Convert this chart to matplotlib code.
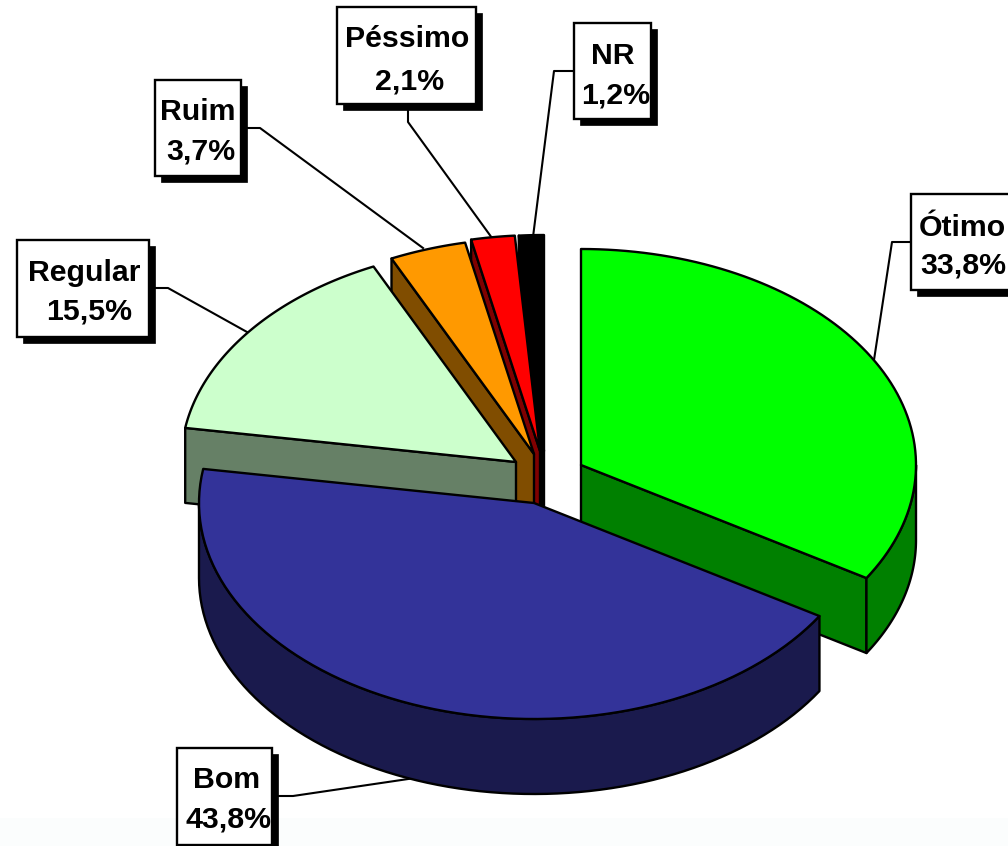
import numpy as np
import matplotlib
matplotlib.use("Agg")
import matplotlib.pyplot as plt
from matplotlib.patches import Polygon, Rectangle

# slices, clockwise from 12 o'clock
names = ["Ótimo", "Bom", "Regular", "Ruim", "Péssimo", "NR"]
values = [33.8, 43.8, 15.5, 3.7, 2.1, 1.2]
value_labels = ["33,8%", "43,8%", "15,5%", "3,7%", "2,1%", "1,2%"]
top_colors = ["#00FF00", "#333399", "#CCFFCC", "#FF9900", "#FF0000", "#000000"]
side_colors = ["#008000", "#1A1A4D", "#668066", "#804D00", "#800000", "#000000"]

# layout in pixels
RX, RY, DEPTH = 335, 216, 75
apex = [(581, 465), (534, 503), (516, 462), (534, 454), (540, 451), (544, 451)]
boxes = [(911, 194, 1030, 290), (177, 748, 272, 845), (17, 240, 149, 337),
         (155, 80, 241, 176), (337, 7, 476, 104), (574, 23, 651, 119)]
text_x = [[962, 963], [227, 228], [84, 89], [198, 201], [407, 410], [613, 616]]
text_y = [[228, 265], [780, 820], [273, 311], [112, 152], [39, 82], [56, 96]]
leaders = [[(911, 242), (892, 242), (874, 360)],
           [(272, 796), (293, 796), (415, 778)],
           [(149, 288), (168, 288), (247, 332)],
           [(241, 128), (260, 128), (423, 248)],
           [(408, 104), (408, 122), (492, 238)],
           [(574, 71), (554, 71), (533, 237)]]
SHADOW = 6
EDGE = 1.7

plt.rcParams["font.family"] = ["Liberation Sans", "DejaVu Sans"]


def rim(center, t0, t1, n=80):
    t = np.radians(np.linspace(t0, t1, n))
    return np.column_stack([center[0] + RX * np.sin(t), center[1] - RY * np.cos(t)])


def wall(ax, pts, color, z):
    low = pts[::-1] + np.array([0, DEPTH])
    ax.add_patch(Polygon(np.vstack([pts, low]), closed=True, fc=color, ec="k",
                         lw=EDGE, joinstyle="round", zorder=z))


def draw_slice(ax, i, t0, t1, z):
    c = apex[i]
    arc = rim(c, t0, t1)
    # radial faces only where they turn towards the viewer
    if 180 < t0 < 360:
        wall(ax, np.array([arc[0], c]), side_colors[i], z)
    if 0 < t1 < 180:
        wall(ax, np.array([c, arc[-1]]), side_colors[i], z)
    lo, hi = max(t0, 90), min(t1, 270)
    if lo < hi:
        wall(ax, rim(c, lo, hi), side_colors[i], z)
    ax.add_patch(Polygon(np.vstack([[c], arc]), closed=True, fc=top_colors[i],
                         ec="k", lw=EDGE, joinstyle="round", zorder=z + 0.5))


fig = plt.figure(figsize=(10.08, 8.46), dpi=100)
ax = fig.add_axes([0, 0, 1, 1])
ax.set_xlim(0, 1008)
ax.set_ylim(846, 0)
ax.axis("off")
ax.axhspan(818, 846, color="#FBFDFD", lw=0, zorder=0)

for pts in leaders:
    xs, ys = zip(*pts)
    ax.plot(xs, ys, color="k", lw=1.5, zorder=1)

edges = np.cumsum([0] + values) * 360.0 / sum(values)
# painter's order: back slices first, the big front one last
for z, i in enumerate([5, 4, 3, 2, 0, 1]):
    draw_slice(ax, i, edges[i], edges[i + 1], 2 + z)

for i, (x0, y0, x1, y1) in enumerate(boxes):
    ax.add_patch(Rectangle((x0 + SHADOW, y0 + SHADOW), x1 - x0, y1 - y0, fc="k",
                           ec="k", lw=0.5, zorder=10))
    ax.add_patch(Rectangle((x0, y0), x1 - x0, y1 - y0, fc="w", ec="k",
                           lw=1.7, zorder=11))
    for txt, tx, ty in zip([names[i], value_labels[i]], text_x[i], text_y[i]):
        ax.text(tx, ty, txt, fontsize=21.8, fontweight="bold", ha="center",
                va="center", color="k", zorder=12)

fig.savefig("out.png", dpi=100)
